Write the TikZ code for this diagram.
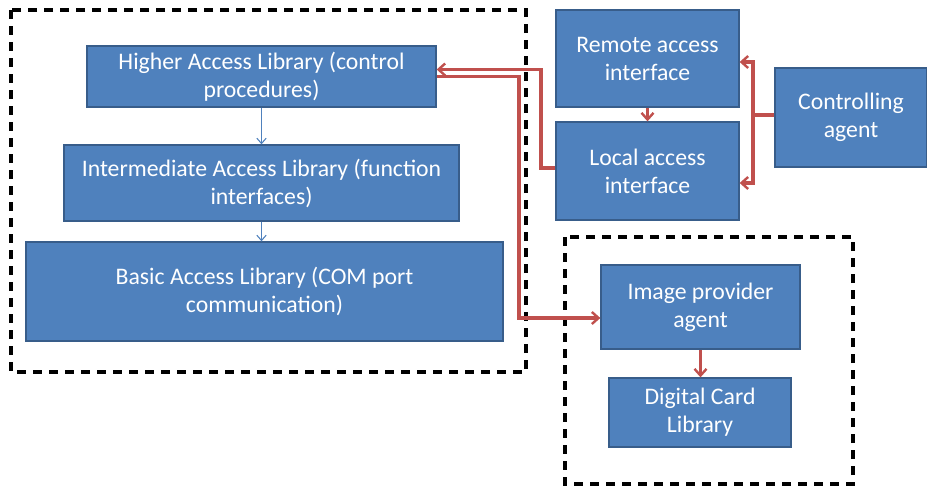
\documentclass[tikz,border=0pt]{standalone}
\usepackage{fontspec}
\setmainfont{Carlito}
\usetikzlibrary{arrows.meta,calc}
\definecolor{boxfill}{HTML}{4F81BD}
\definecolor{boxline}{HTML}{385D8A}
\definecolor{redline}{HTML}{C0504D}
\begin{document}
\begin{tikzpicture}[x=0.75pt,y=-0.75pt,
  blk/.style={draw=boxline,fill=boxfill,line width=1pt,text=white,align=center,inner sep=2pt,font=\fontsize{17.8}{21}\selectfont},
  grp/.style={draw=black,line width=2.3pt,dash pattern=on 7pt off 5pt},
  redarr/.style={draw=redline,line width=2.5pt,-{Straight Barb[length=5pt,width=9pt,line width=1.8pt]}},
  redln/.style={draw=redline,line width=2.5pt},
  bluearr/.style={draw=boxfill,line width=0.8pt,-{Straight Barb[length=4pt,width=7pt]}}]
\useasboundingbox (0,0) rectangle (927,486);
% groups
\draw[grp] (11,10) rectangle (526,372);
\draw[grp] (565,237) rectangle (853,484);
% blocks
\node[blk,minimum width=261.75pt,minimum height=45.75pt] (hal) at (261.5,76.5) {Higher Access Library (control\\procedures)};
\node[blk,minimum width=296.25pt,minimum height=57pt] (ial) at (261.5,183) {Intermediate Access Library (function\\interfaces)};
\node[blk,minimum width=357.75pt,minimum height=74.25pt] (bal) at (264.5,291.5) {Basic Access Library (COM port\\communication)};
\node[blk,minimum width=137.25pt,minimum height=72.75pt] (rai) at (647.5,58.5) {Remote access\\interface};
\node[blk,minimum width=137.25pt,minimum height=73.5pt] (lai) at (647.5,171) {Local access\\interface};
\node[blk,minimum width=114pt,minimum height=74.25pt] (ca) at (851,117.5) {Controlling\\agent};
\node[blk,minimum width=149.25pt,minimum height=63pt] (ipa) at (700.5,307) {Image provider\\agent};
\node[blk,minimum width=136.5pt,minimum height=51.75pt] (dcl) at (700,412.5) {Digital Card\\Library};
% blue arrows
\draw[bluearr] (hal.south) -- (hal.south |- ial.north);
\draw[bluearr] (ial.south) -- (ial.south |- bal.north);
% red arrows
\coordinate (lw) at ($(lai.west)+(0,-3)$);
\coordinate (hu) at ($(hal.east)+(0,-7)$);
\draw[redarr] (lw) -- (541,168) |- (hu);
\coordinate (ipin) at ($(ipa.west)+(0,11)$);
\draw[redarr] (hal.east) -- (519,76.5) |- (ipin);
\coordinate (cw) at ($(ca.west)+(0,-2.5)$);
\draw[redln] (cw) -- (753,115);
\coordinate (rin) at ($(rai.east)+(0,3.5)$);
\coordinate (lin) at ($(lai.east)+(0,12)$);
\draw[redarr] (753,115) |- (rin);
\draw[redarr] (753,115) |- (lin);
\draw[redarr] (rai.south) -- (lai.north);
\draw[redarr] (ipa.south) -- (ipa.south |- dcl.north);
\end{tikzpicture}
\end{document}
